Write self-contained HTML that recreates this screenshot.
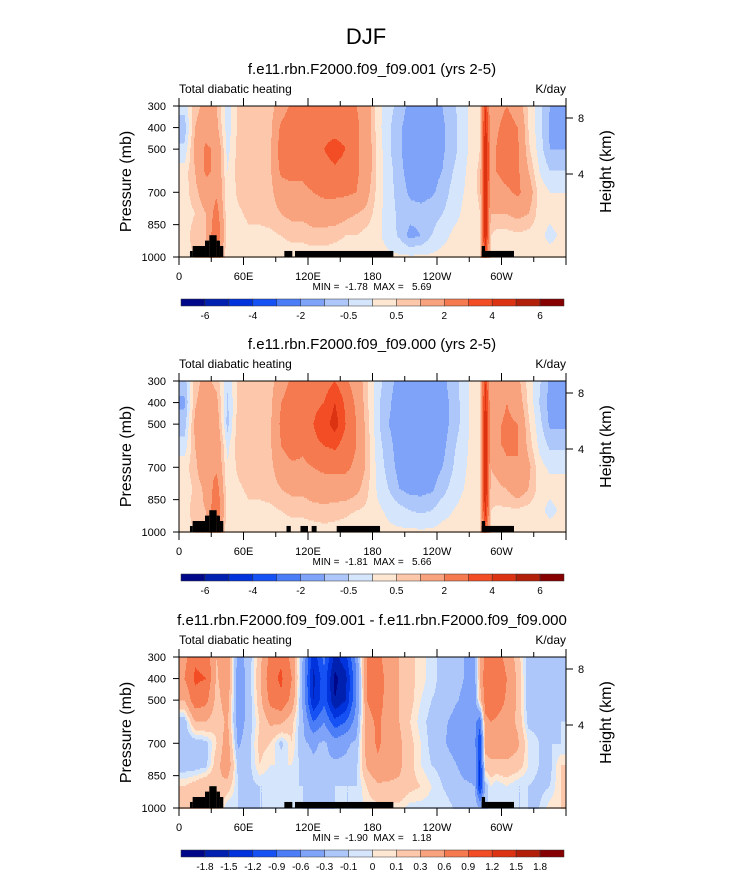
<!DOCTYPE html>
<html><head><meta charset="utf-8"><style>
html,body{margin:0;padding:0;background:#fff;}
svg{display:block;font-family:"Liberation Sans",Arial,sans-serif;}
</style></head><body>
<svg id="fig" width="733" height="888" viewBox="0 0 733 888" xmlns="http://www.w3.org/2000/svg">
<text x="366" y="44" font-size="22" text-anchor="middle">DJF</text>
</svg>
<script>
// ---- data ----
const lons = [5,15,25,35,45,55,65,75,85,95,105,115,125,135,145,155,165,175,185,195,205,215,225,235,245,255,265,275,280,285,290,295,305,315,325,335,345,355];
const levels = [300,400,500,600,700,800,900,1000];
const xTickLabels = ["0","60E","120E","180","120W","60W"];
const yTickLabels = [300,400,500,700,850,1000];
const levelsAbs = [-6,-5,-4,-3,-2,-1,-0.5,0,0.5,1,2,3,4,5,6];
const levelLabelsAbs = ["-6","","-4","","-2","","-0.5","","0.5","","2","","4","","6"];
const levelsDiff = [-1.8,-1.5,-1.2,-0.9,-0.6,-0.3,-0.1,0,0.1,0.3,0.6,0.9,1.2,1.5,1.8];
const levelLabelsDiff = ["-1.8","-1.5","-1.2","-0.9","-0.6","-0.3","-0.1","0","0.1","0.3","0.6","0.9","1.2","1.5","1.8"];
const palette = ["#00088a","#0020b0","#0033dc","#1652f3","#4b7df6","#7fa3f8","#aec7fa","#d5e5fb","#fde6d2","#fcc7aa","#f9a37e","#f67a50","#f24d24","#dc3412","#b2200a","#860000"];

const field1 = [
[-0.3,0.8,1.2,1.0,-0.3,0.6,0.8,0.7,0.7,1.5,2.2,2.0,2.2,2.5,2.2,2.2,2.0,1.5,0.2,-0.3,-0.7,-1.2,-1.2,-1.2,-1.0,-0.6,-0.2,0.3,0.5,4.0,1.2,1.5,2.0,1.5,0.4,-0.3,-1.0,-1.2],
[-0.8,1.0,1.5,1.2,-0.3,0.6,0.8,0.8,0.8,2.2,2.6,2.2,2.5,2.6,2.5,2.5,2.2,1.5,0.2,-0.4,-0.9,-1.3,-1.3,-1.3,-1.1,-0.7,-0.2,0.3,0.5,4.5,1.5,1.8,2.5,2.0,0.5,-0.3,-1.1,-1.2],
[-0.4,1.2,2.2,1.8,-0.2,0.7,0.9,0.8,0.9,2.5,2.8,2.5,2.8,3.0,3.5,3.0,2.2,1.5,0.3,-0.4,-0.9,-1.4,-1.4,-1.3,-1.1,-0.7,-0.2,0.3,0.5,5.0,1.8,2.0,3.0,2.2,0.6,-0.2,-1.0,-1.0],
[0.2,1.0,2.2,1.8,0.0,0.7,0.9,0.8,0.9,2.2,2.5,2.2,2.5,2.5,2.8,2.5,2.2,1.5,0.3,-0.3,-0.8,-1.3,-1.3,-1.2,-1.0,-0.5,-0.1,0.4,0.6,5.0,1.8,2.0,2.5,2.2,1.0,0.0,-0.5,-0.5],
[0.3,0.8,1.5,1.8,0.1,0.6,0.8,0.8,0.8,1.5,1.5,1.8,2.0,2.2,2.2,2.2,2.0,1.2,0.3,-0.3,-0.7,-1.1,-1.2,-1.1,-0.8,-0.3,0.0,0.4,0.6,5.0,1.3,1.5,1.8,2.2,1.5,0.3,0.0,0.0],
[0.2,0.5,1.0,2.5,0.1,0.4,0.6,0.6,0.7,1.0,1.2,1.2,1.5,1.5,1.5,1.2,1.0,0.8,0.2,-0.3,-0.6,-0.8,-0.8,-0.7,-0.5,-0.2,0.1,0.3,0.5,5.0,1.0,1.0,1.0,1.2,1.0,0.3,0.2,0.2],
[0.2,0.8,1.0,3.0,0.1,0.3,0.4,0.4,0.4,0.5,0.6,0.6,0.7,0.7,0.6,0.5,0.5,0.3,0.1,-0.2,-0.6,-1.2,-1.0,-0.5,-0.2,0.1,0.2,0.2,0.4,5.0,0.5,0.3,0.3,0.4,0.3,0.2,-0.2,0.1],
[0.3,0.5,0.8,1.5,0.2,0.2,0.3,0.3,0.3,0.3,0.3,0.3,0.3,0.3,0.3,0.3,0.2,0.2,0.2,0.1,0.1,0.1,0.1,0.1,0.2,0.2,0.2,0.2,0.3,3.0,0.4,0.3,0.3,0.3,0.3,0.3,0.3,0.3]];

const field2 = [
[-0.8,0.8,1.2,0.8,-0.4,0.6,0.8,0.7,0.7,1.5,2.2,2.0,2.5,2.5,3.0,2.2,1.5,0.6,-0.3,-0.8,-1.2,-1.3,-1.3,-1.3,-1.2,-0.7,-0.3,0.3,0.5,4.0,1.0,1.2,1.5,1.2,0.3,-0.4,-1.1,-1.2],
[-1.1,0.9,1.5,1.2,-0.6,0.6,0.9,0.8,0.8,2.0,2.5,2.2,2.8,3.0,4.0,2.8,1.8,0.6,-0.4,-0.9,-1.3,-1.4,-1.4,-1.4,-1.3,-0.8,-0.3,0.3,0.5,4.5,1.3,1.5,2.0,1.5,0.4,-0.5,-1.2,-1.2],
[-0.8,1.2,2.0,1.5,-0.7,0.8,0.9,0.8,0.9,2.2,2.8,2.5,3.0,3.5,4.5,3.0,2.0,0.7,-0.4,-1.0,-1.3,-1.5,-1.5,-1.5,-1.3,-0.8,-0.3,0.3,0.5,5.0,1.5,1.8,2.2,2.0,0.6,-0.3,-1.1,-1.1],
[-0.3,1.0,2.0,1.8,-0.2,0.8,0.9,0.8,0.9,2.0,2.5,2.2,2.8,3.0,3.2,2.5,2.0,0.8,-0.3,-0.8,-1.3,-1.4,-1.4,-1.4,-1.2,-0.6,-0.2,0.3,0.5,5.0,1.5,1.8,2.2,2.0,0.8,-0.1,-0.6,-0.6],
[0.3,0.8,1.8,1.8,0.1,0.6,0.8,0.8,0.8,1.5,1.8,1.8,2.0,2.2,2.2,2.2,1.8,0.8,-0.2,-0.7,-1.2,-1.3,-1.3,-1.3,-1.0,-0.5,-0.1,0.3,0.5,5.0,1.0,1.2,1.8,2.0,1.2,0.2,-0.1,-0.1],
[0.2,0.6,1.2,2.5,0.1,0.4,0.6,0.6,0.7,1.0,1.2,1.2,1.5,1.5,1.5,1.5,1.2,0.6,-0.1,-0.5,-1.0,-1.2,-1.2,-1.1,-0.7,-0.3,0.0,0.3,0.5,5.0,0.8,0.8,1.0,1.5,1.0,0.3,0.2,0.2],
[0.2,0.8,1.0,3.0,0.1,0.3,0.4,0.4,0.4,0.5,0.6,0.6,0.7,0.8,0.7,0.6,0.5,0.4,0.1,-0.1,-0.3,-0.5,-0.6,-0.5,-0.2,0.0,0.2,0.2,0.4,4.5,0.5,0.4,0.4,0.4,0.3,0.2,-0.2,0.1],
[0.3,0.5,0.8,1.5,0.2,0.2,0.3,0.3,0.3,0.3,0.3,0.3,0.3,0.3,0.3,0.3,0.2,0.2,0.2,0.1,0.1,0.1,0.1,0.1,0.2,0.2,0.2,0.2,0.3,3.0,0.4,0.3,0.3,0.3,0.3,0.3,0.3,0.3]];

const field3 = [
[0.5,0.85,0.8,0.3,0.5,-0.4,-0.2,0.2,0.7,0.85,0.5,-0.3,-1.4,-0.8,-1.6,-1.3,-0.5,0.6,0.7,0.4,0.3,0.15,0.05,-0.05,-0.15,-0.2,-0.3,-0.4,0.3,0.7,0.8,0.75,0.5,0.2,-0.2,-0.25,-0.2,-0.15],
[0.6,0.95,0.9,0.25,0.55,-0.5,-0.2,0.25,0.8,0.95,0.6,-0.35,-1.6,-1.0,-1.9,-1.6,-0.6,0.65,0.8,0.45,0.3,0.15,0.05,-0.05,-0.15,-0.2,-0.3,-0.4,0.3,0.8,0.9,0.85,0.6,0.25,-0.2,-0.25,-0.2,-0.15],
[0.3,0.8,0.7,0.2,0.45,-0.5,-0.2,0.2,0.7,0.85,0.5,-0.35,-1.5,-1.0,-1.8,-1.5,-0.6,0.6,0.75,0.45,0.3,0.15,0.0,-0.1,-0.15,-0.25,-0.35,-0.45,0.2,0.75,0.85,0.8,0.55,0.25,-0.2,-0.2,-0.2,-0.15],
[-0.2,0.3,0.3,0.15,0.35,-0.45,-0.2,0.1,0.35,0.35,0.15,-0.25,-0.9,-0.6,-1.1,-0.9,-0.45,0.5,0.65,0.45,0.3,0.1,-0.05,-0.15,-0.25,-0.35,-0.5,-0.5,-0.8,0.5,0.6,0.55,0.45,0.25,-0.15,-0.15,-0.2,-0.1],
[-0.2,-0.2,-0.15,0.1,0.45,-0.35,-0.15,0.15,0.1,-0.15,0.1,-0.25,-0.35,-0.25,-0.45,-0.35,-0.25,0.45,0.65,0.45,0.35,0.15,0.0,-0.15,-0.25,-0.4,-0.5,-0.5,-1.2,0.4,0.45,0.45,0.45,0.35,0.0,-0.1,-0.1,-0.1],
[-0.2,-0.2,-0.15,0.2,0.5,-0.15,-0.15,0.1,0.0,0.0,0.0,-0.15,-0.25,-0.25,-0.25,-0.25,-0.15,0.35,0.55,0.45,0.35,0.15,0.0,-0.1,-0.15,-0.25,-0.4,-0.4,-1.3,0.2,0.25,0.25,0.25,0.2,0.0,-0.1,-0.15,0.1],
[0.1,0.2,0.3,0.3,0.2,-0.1,-0.15,-0.1,-0.1,-0.1,-0.1,-0.1,-0.15,-0.15,-0.1,-0.1,-0.1,0.1,0.25,0.25,0.25,0.15,0.1,0.0,-0.1,-0.15,-0.25,-0.3,-1.3,-0.2,0.0,-0.1,0.0,-0.1,-0.1,-0.15,-0.1,0.1],
[0.1,0.2,0.2,0.2,-0.1,-0.1,-0.1,-0.1,-0.1,-0.1,-0.1,-0.1,-0.1,-0.1,-0.1,-0.1,-0.1,0.05,0.05,0.05,0.05,-0.05,-0.05,-0.05,-0.05,-0.1,-0.1,-0.1,-0.3,-0.1,-0.1,-0.1,-0.1,-0.1,-0.1,-0.1,0.05,0.1]];

// topography blocks: [lonStart, lonEnd, topPressure]
const topoA = [[10.2,12.7,972],[12.7,24.2,949],[24.2,28.2,924],[28.2,35,899],[35,38.1,924],[38.1,41.2,949],[98,105.4,972],[107.9,199.4,972],[281.6,284.7,949],[284.7,311.6,972],[281.6,311.6,972]];
const topoB = [[10.2,12.7,972],[12.7,24.2,949],[24.2,28.2,924],[28.2,35,899],[35,38.1,924],[38.1,41.2,949],[100,104,972],[113,120,972],[123.4,128,972],[146.7,187,972],[281.6,284.7,949],[284.7,311.6,972],[281.6,311.6,972]];

const titles = ["f.e11.rbn.F2000.f09_f09.001 (yrs 2-5)","f.e11.rbn.F2000.f09_f09.000 (yrs 2-5)","f.e11.rbn.F2000.f09_f09.001 - f.e11.rbn.F2000.f09_f09.000"];
const minmax = ["MIN =  -1.78  MAX =   5.69","MIN =  -1.81  MAX =   5.66","MIN =  -1.90  MAX =   1.18"];

// ---- drawing ----
const NS="http://www.w3.org/2000/svg";
const svg=document.getElementById('fig');
const X0=179, W=387, H=151;
function mk(tag,attrs,parent){const e=document.createElementNS(NS,tag);for(const k in attrs)e.setAttribute(k,attrs[k]);(parent||svg).appendChild(e);return e;}
function xScale(lon){return X0+lon/360*W;}
function yScale(top,p){return top+(p-300)/700*H;}
function sample(f,lon,p){
  let i0=0,a=0;
  if(lon<=lons[0]){i0=0;a=0;}
  else if(lon>=lons[lons.length-1]){i0=lons.length-2;a=1;}
  else{while(i0<lons.length-2&&lons[i0+1]<=lon)i0++;a=(lon-lons[i0])/(lons[i0+1]-lons[i0]);}
  let fj=(p-300)/100; fj=Math.max(0,Math.min(levels.length-1,fj));
  const j0=Math.min(Math.floor(fj),levels.length-2);
  const b=fj-j0;
  return (f[j0][i0]*(1-a)+f[j0][i0+1]*a)*(1-b)+(f[j0+1][i0]*(1-a)+f[j0+1][i0+1]*a)*b;
}
function colorIdx(v,lv){let k=0;while(k<lv.length&&v>=lv[k])k++;return k;}

function panel(idx,top,field,lv,lvLabels,topo){
  const g=mk('g',{});
  
  
  const t=mk('text',{x:372,y:top-32,'font-size':15,'text-anchor':'middle'},g);t.textContent=titles[idx];
  
  
  const l=mk('text',{x:179,y:top-13,'font-size':12},g);l.textContent="Total diabatic heating";
  
  
  const u=mk('text',{x:566,y:top-13,'font-size':12,'text-anchor':'end'},g);u.textContent="K/day";
  
  
  const cg=mk('g',{'shape-rendering':'crispEdges'},g);
  
  
  const dx=1, dy=1.5;
  for(let y=0;y<H;y+=dy){
    const p=300+(y+dy/2)/H*700;
    let runStart=0, runC=-1;
    for(let x=0;x<=W;x+=dx){
      let c=-2;
      if(x<W){const lon=(x+dx/2)/W*360;c=colorIdx(sample(field,lon,p),lv);}
      if(c!==runC){
        if(runC>=0){mk('rect',{x:X0+runStart,y:top+y,width:x-runStart+0.4,height:dy+0.4,fill:palette[runC]},cg);}
        runStart=x;runC=c;
      }
    }
  }
  topo.forEach(b=>{
    const r=mk('rect',{x:xScale(b[0]),y:yScale(top,b[2]),width:xScale(b[1])-xScale(b[0]),height:yScale(top,1000)-yScale(top,b[2]),fill:'#000'},g);
    
    
  });
  const fr=mk('rect',{x:X0,y:top,width:W,height:H,fill:'none',stroke:'#000','stroke-width':1},g);
  
  
  for(let lon=0;lon<=360;lon+=30){
    const x=xScale(lon), major=lon%60===0, len=major?8:5;
    mk('line',{x1:x,y1:top+H,x2:x,y2:top+H+len,stroke:'#000'},g);
    mk('line',{x1:x,y1:top,x2:x,y2:top-len,stroke:'#000'},g);
    if(major&&lon<360){const tt=mk('text',{x:x,y:top+H+23,'font-size':11,'text-anchor':'middle'},g);tt.textContent=xTickLabels[lon/60];
      
      }
  }
  yTickLabels.forEach(p=>{
    const y=yScale(top,p);
    mk('line',{x1:X0,y1:y,x2:X0-6,y2:y,stroke:'#000'},g);
    const tt=mk('text',{x:X0-13,y:y+4,'font-size':11,'text-anchor':'end'},g);tt.textContent=p;
    
    
  });
  [[8,12],[4,68]].forEach(h=>{
    const y=top+h[1];
    mk('line',{x1:X0+W,y1:y,x2:X0+W+7,y2:y,stroke:'#000'},g);
    const tt=mk('text',{x:X0+W+12,y:y+4,'font-size':11},g);tt.textContent=h[0];
    
    
  });
  const yt=mk('text',{x:0,y:0,'font-size':16,'text-anchor':'middle',transform:`translate(131,${top+H/2}) rotate(-90)`},g);yt.textContent="Pressure (mb)";
  
  
  const ht=mk('text',{x:0,y:0,'font-size':16,'text-anchor':'middle',transform:`translate(611,${top+H/2-10}) rotate(-90)`},g);ht.textContent="Height (km)";
  
  
  const mm=mk('text',{x:372,y:top+184,'font-size':10,'text-anchor':'middle','xml:space':'preserve',style:'white-space:pre'},g);mm.textContent=minmax[idx];
  
  
  const cb=mk('g',{},g);
  
  
  const cx0=181, cw=(564-181)/16, cy=top+193;
  for(let k=0;k<16;k++){
    const r=mk('rect',{x:cx0+k*cw,y:cy,width:cw,height:7,fill:palette[k],stroke:'#333','stroke-width':0.5},cb);
    
    
  }
  lvLabels.forEach((s,k)=>{
    if(!s)return;
    const tt=mk('text',{x:cx0+(k+1)*cw,y:cy+20,'font-size':10,'text-anchor':'middle'},cb);tt.textContent=s;
    
    
  });
}
panel(0,106,field1,levelsAbs,levelLabelsAbs,topoA);
panel(1,381,field2,levelsAbs,levelLabelsAbs,topoB);
panel(2,657,field3,levelsDiff,levelLabelsDiff,topoA);
</script>
</body></html>
